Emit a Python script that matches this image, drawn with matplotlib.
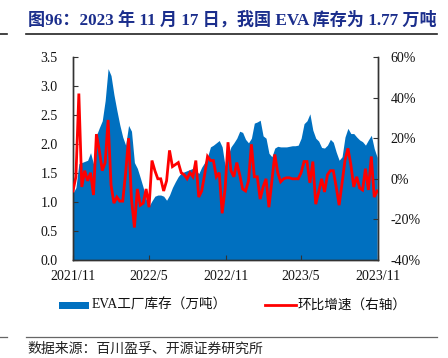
import numpy as np
import pandas as pd
import matplotlib
matplotlib.use("Agg")
import matplotlib.pyplot as plt
from matplotlib.patches import Rectangle
from matplotlib.lines import Line2D

# ---------------- data ----------------
start_date = "2021-11-19"
end_date = "2023-11-17"
inventory = [
    1.15, 1.25, 1.66, 1.68, 1.70, 1.72, 1.85, 1.66, 2.15, 2.28,
    2.40, 2.75, 3.30, 3.18, 2.85, 2.58, 2.33, 2.12, 1.98, 2.32,
    2.22, 1.68, 1.58, 1.42, 1.25, 1.05, 0.93, 1.02, 1.10, 1.12,
    1.12, 1.10, 1.03, 1.12, 1.25, 1.35, 1.44, 1.50, 1.52, 1.54,
    1.56, 1.58, 1.55, 1.49, 1.60, 1.68, 1.78, 1.95, 1.98, 2.02,
    2.06, 1.95, 1.62, 1.80, 1.95, 2.02, 2.10, 2.22, 2.20, 2.08,
    2.02, 2.10, 2.36, 2.38, 2.41, 2.14, 2.10, 1.84, 1.78, 1.93,
    1.96, 1.95, 1.95, 1.95, 1.96, 1.97, 1.97, 1.98, 2.10, 2.35,
    2.40, 2.52, 2.24, 2.10, 2.05, 1.94, 1.93, 1.98, 2.08, 2.03,
    1.86, 1.72, 1.78, 2.12, 2.27, 2.18, 2.18, 2.12, 2.07, 2.04,
    1.98, 2.07, 2.15, 1.92, 1.77,
]
wow_change = [
    -6, 1, 42, -4, 4, -1, 3, -8, 22, 14,
    4, 8, 29, -3, -12, -9, -11, -11, 3, 20,
    -10, -24, -5, -13, -12, -5, -14, 9, 4, 0,
    0, -6, -1, 14, 6, 7, 8, 3, 2, 0,
    3, 1, 9, -9, -6, 2, 11, 9, 9, 1,
    3, -17, -5, 18, 4, 1, 8, 2, -5, -6,
    -1, 17, 1, 1, -10, -4, 0, -14, -1, 12,
    3, -1.5, 0, 0.5, 0.5, 0, 0, 0, 3, 8.5,
    8.5, -2, 8.5, -12.5, -6.5, 0, -6.5, 2, 4, 4,
    -4, -13, -2, 9, 15, 7, -4, 1, -4.5, -5.5,
    5, -5.5, 11, -9, -6,
]
tick_dates = ["2021-11-19", "2022-05-19", "2022-11-19", "2023-05-19", "2023-11-19"]
tick_labels = ["2021/11", "2022/5", "2022/11", "2023/5", "2023/11"]
left_ticks = [0.0, 0.5, 1.0, 1.5, 2.0, 2.5, 3.0, 3.5]
right_ticks = [-40, -20, 0, 20, 40, 60]

title = "图96：2023 年 11 月 17 日，我国 EVA 库存为 1.77 万吨"
legend_labels = ["EVA工厂库存（万吨）", "环比增速（右轴）"]
source = "数据来源：百川盈孚、开源证券研究所"

dates = pd.date_range(start_date, end_date, freq="7D")

# ---------------- style ----------------
BLUE = "#0070C0"
RED = "#FF0000"
NAVY = "#1B2E8C"
SPINE = "#333333"
serif_cjk = ["Liberation Serif", "Noto Sans CJK SC"]
plt.rcParams["font.family"] = serif_cjk

W, H = 448, 358
fig = plt.figure(figsize=(W / 100, H / 100), dpi=100)

def fx(px):
    return px / W

def fy(py):
    return 1 - py / H

ax_l, ax_r, ax_t, ax_b = 73, 378, 57, 260
ax = fig.add_axes([fx(ax_l), fy(ax_b), fx(ax_r - ax_l), (ax_b - ax_t) / H])
ax2 = ax.twinx()

ax.fill_between(dates, inventory, 0, color=BLUE, lw=0, zorder=1)
ax2.plot(dates, wow_change, color=RED, lw=2.0, solid_joinstyle="miter", zorder=3)

ax.set_xlim(pd.Timestamp(start_date), pd.Timestamp(tick_dates[-1]))
ax.set_ylim(0, 3.5)
ax2.set_ylim(-40, 60)

ax.set_xticks(pd.to_datetime(tick_dates))
ax.set_xticklabels(tick_labels)
ax.set_yticks(left_ticks)
ax.set_yticklabels([f"{v:.1f}" for v in left_ticks])
ax2.set_yticks(right_ticks)
ax2.set_yticklabels([f"{v}%" for v in right_ticks])

for a in (ax, ax2):
    a.spines["top"].set_visible(False)
    for s in ("left", "right", "bottom"):
        a.spines[s].set_color(SPINE)
        a.spines[s].set_linewidth(1.0)
    a.set_facecolor("none")

ax.tick_params(axis="x", direction="in", length=3.5, width=0.8, color=SPINE,
               labelsize=10, pad=7, labelcolor="#111111")
ax.tick_params(axis="y", direction="in", length=3.5, width=0.8, color=SPINE,
               labelsize=10, pad=11, labelcolor="#111111")
ax2.tick_params(axis="y", direction="in", length=3.5, width=0.8, color=SPINE,
                labelsize=10, pad=9, labelcolor="#111111")
for lab in ax.get_xticklabels() + ax.get_yticklabels() + ax2.get_yticklabels():
    lab.set_family(["Liberation Serif"])

# ---------------- title & rules ----------------
fig.text(fx(28), fy(20), title, color=NAVY, fontsize=12.3, fontweight="bold",
         family=serif_cjk, ha="left", va="center")
fig.add_artist(Line2D([fx(26), fx(437)], [fy(34), fy(34)], color="#222222", lw=1.2))
fig.add_artist(Line2D([fx(0), fx(7)], [fy(34), fy(34)], color="#222222", lw=1.2))
fig.add_artist(Line2D([fx(26), fx(437)], [fy(337), fy(337)], color="#666666", lw=0.9))
fig.add_artist(Line2D([fx(0), fx(7)], [fy(337), fy(337)], color="#666666", lw=0.9))

# ---------------- legend ----------------
ly = 305
fig.add_artist(Rectangle((fx(59), fy(ly + 3.5)), fx(30), 7 / H, color=BLUE, lw=0))
fig.text(fx(92), fy(ly), legend_labels[0], fontsize=9.8, family=serif_cjk,
         ha="left", va="center", color="#111111")
fig.add_artist(Line2D([fx(265), fx(296)], [fy(ly), fy(ly)], color=RED, lw=2.0))
fig.text(fx(298), fy(ly), legend_labels[1], fontsize=9.8, family=serif_cjk,
         ha="left", va="center", color="#111111")

# ---------------- source ----------------
fig.text(fx(27), fy(349), source, fontsize=10, family=serif_cjk,
         ha="left", va="center", color="#222222")

fig.savefig("out.png", dpi=100)
